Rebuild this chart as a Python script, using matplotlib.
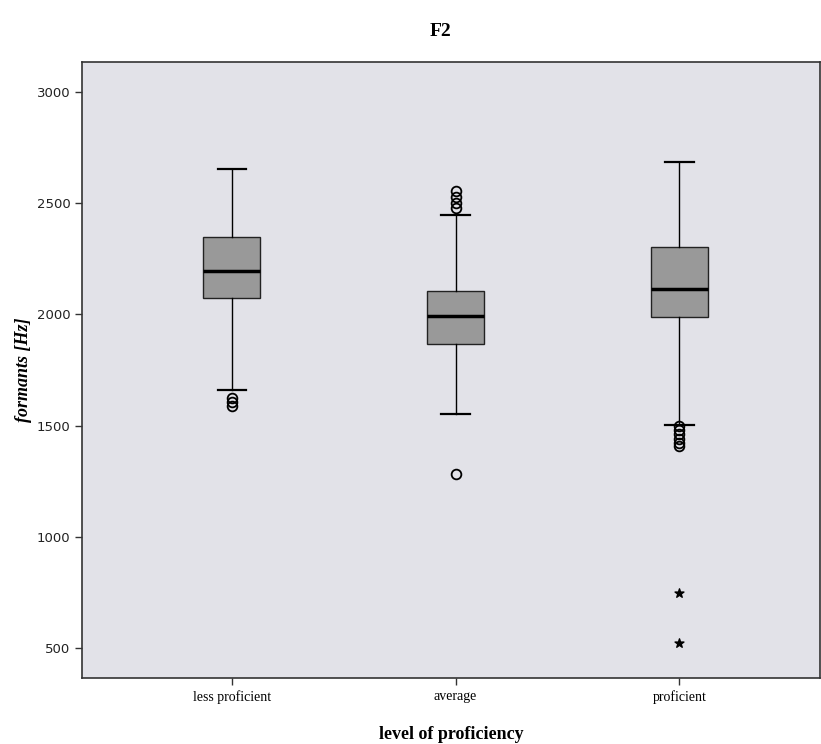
import matplotlib
matplotlib.use("Agg")
import matplotlib.pyplot as plt

categories = ["less proficient", "average", "proficient"]
whislo = [1658, 1554, 1504]
q1 = [2072, 1869, 1987]
med = [2194, 1991, 2113]
q3 = [2347, 2104, 2302]
whishi = [2655, 2446, 2685]
outliers = [[1625, 1605, 1588],
            [2555, 2530, 2500, 2480, 1284],
            [1500, 1480, 1460, 1440, 1420, 1408]]
extremes = [[], [], [745, 523]]
yticks = [500, 1000, 1500, 2000, 2500, 3000]

fig = plt.figure(figsize=(8.21, 7.44), dpi=100)
ax = fig.add_axes([0.1, 0.0887, 0.899, 0.828])
bg = "#E2E2E8"
ax.set_facecolor(bg)

stats = []
for i, c in enumerate(categories):
    stats.append(dict(label=c, whislo=whislo[i], q1=q1[i], med=med[i],
                      q3=q3[i], whishi=whishi[i], fliers=outliers[i]))
pos = list(range(len(categories)))
ax.bxp(stats, positions=pos, widths=0.255, patch_artist=True,
       boxprops=dict(facecolor="#999999", edgecolor="#222222", linewidth=1.0),
       medianprops=dict(color="black", linewidth=2.5),
       whiskerprops=dict(color="black", linewidth=1.0),
       capprops=dict(color="black", linewidth=1.6),
       capwidths=0.128,
       flierprops=dict(marker="o", markerfacecolor="none", markeredgecolor="black",
                       markersize=7, markeredgewidth=1.3))
for i, ex in enumerate(extremes):
    if ex:
        ax.scatter([pos[i]] * len(ex), ex, marker="*", s=45, color="black", zorder=5)

ax.set_xlim(-0.67, 2.63)
ax.set_ylim(365, 3135)
ax.set_yticks(yticks)
ax.set_yticklabels([str(v) for v in yticks], fontsize=9.5, family="DejaVu Sans", color="#222222")
ax.set_xticks(pos)
ax.set_xticklabels(categories, fontsize=10, family="Liberation Serif")
ax.tick_params(axis="both", direction="out", length=5, width=1, color="#333333")
for s in ax.spines.values():
    s.set_color("#333333")
    s.set_linewidth(1.2)

ax.set_ylabel("formants [Hz]", fontsize=13, family="Liberation Serif",
              style="italic", fontweight="bold", labelpad=3)
ax.set_xlabel("level of proficiency", fontsize=13, family="Liberation Serif",
              fontweight="bold", labelpad=16)
fig.text(0.537, 0.958, "F2", ha="center", va="center", fontsize=14,
         family="Liberation Serif", fontweight="bold")

fig.savefig("out.png", dpi=100)
